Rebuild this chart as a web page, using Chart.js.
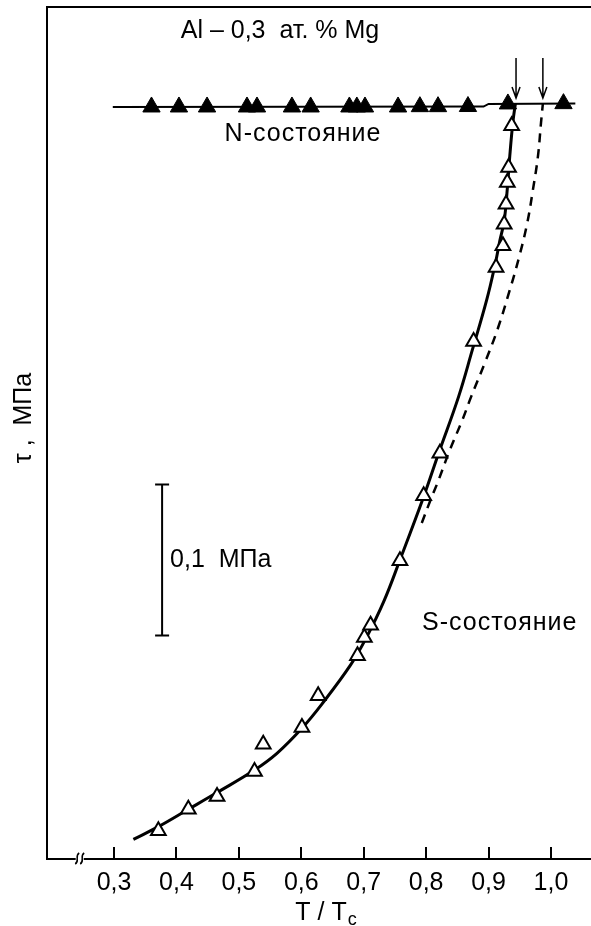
<!DOCTYPE html>
<html>
<head>
<meta charset="utf-8">
<script src="https://cdn.jsdelivr.net/npm/chart.js@4.4.1/dist/chart.umd.min.js"></script>
<style>
  html, body { margin: 0; padding: 0; background: #fff; }
  canvas { display: block; }
</style>
</head>
<body>
<canvas id="myChart" width="591" height="926"></canvas>
<script>
// x: T / Tc, y: tau in MPa (arbitrary zero at the axis)
const xTicks = [0.3, 0.4, 0.5, 0.6, 0.7, 0.8, 0.9, 1.0];

// N-state (filled triangles)
const nT = [0.360, 0.404, 0.449, 0.513, 0.529, 0.585, 0.615, 0.677, 0.689, 0.702, 0.755, 0.790, 0.819, 0.867, 0.931, 1.020];
const nTau = [0.498, 0.498, 0.498, 0.498, 0.498, 0.498, 0.498, 0.498, 0.498, 0.498, 0.498, 0.4982, 0.4982, 0.4983, 0.500, 0.5002];
const nLineT = [0.298, 0.892, 0.900, 1.039];
const nLineTau = [0.498, 0.4983, 0.500, 0.5003];

// S-state (open triangles)
const sT = [0.371, 0.419, 0.465, 0.525, 0.539, 0.601, 0.627, 0.690, 0.701, 0.711, 0.758, 0.796, 0.822, 0.876, 0.912, 0.923, 0.925, 0.928, 0.930, 0.932, 0.937];
const sTau = [0.0187, 0.0330, 0.0414, 0.0579, 0.0760, 0.0871, 0.1081, 0.1346, 0.1467, 0.1548, 0.1975, 0.2405, 0.2687, 0.3427, 0.3917, 0.4061, 0.4204, 0.4336, 0.4480, 0.4579, 0.4856];

// solid fitted curve
const curveT = [0.331, 0.371, 0.419, 0.465, 0.525, 0.561, 0.601, 0.633, 0.679, 0.705, 0.732, 0.758, 0.796, 0.820, 0.852, 0.874, 0.897, 0.911, 0.918, 0.925, 0.930, 0.934, 0.939, 0.943];
const curveTau = [0.0130, 0.0214, 0.0329, 0.0440, 0.0589, 0.0700, 0.0866, 0.1026, 0.1285, 0.1472, 0.1704, 0.1980, 0.2399, 0.2687, 0.3062, 0.3371, 0.3702, 0.3947, 0.4093, 0.4225, 0.4437, 0.4656, 0.4881, 0.5003];

// dashed curve
const dashT = [0.793, 0.807, 0.820, 0.838, 0.858, 0.872, 0.894, 0.914, 0.934, 0.949, 0.962, 0.971, 0.979, 0.984, 0.987];
const dashTau = [0.2225, 0.2377, 0.2510, 0.2709, 0.2907, 0.3060, 0.3285, 0.3503, 0.3768, 0.3987, 0.4212, 0.4430, 0.4649, 0.4874, 0.5003];

const arrowT = [0.944, 0.987];
const scaleBarT = 0.377;
const scaleBarTau = [0.148, 0.248];
const breakT = 0.245;

const FONT = "'Liberation Sans', Arial, Helvetica, sans-serif";

const zip = (xs, ys) => xs.map((x, i) => ({ x: x, y: ys[i] }));
const fmt = (v) => v.toFixed(1).replace(".", ",");

const extras = {
  id: "extras",
  afterDraw(chart) {
    const ctx = chart.ctx;
    const xs = chart.scales.x;
    const ys = chart.scales.y;
    const area = chart.chartArea;
    ctx.save();
    ctx.strokeStyle = "#000";
    ctx.fillStyle = "#000";

    // top frame line
    ctx.lineWidth = 2;
    ctx.beginPath();
    ctx.moveTo(area.left - 1, area.top);
    ctx.lineTo(chart.width, area.top);
    ctx.stroke();

    // inner ticks
    xTicks.forEach((t) => {
      const px = Math.round(xs.getPixelForValue(t));
      ctx.beginPath();
      ctx.moveTo(px, area.bottom);
      ctx.lineTo(px, area.bottom - 12);
      ctx.stroke();
    });

    // axis break mark
    const bx = xs.getPixelForValue(breakT);
    ctx.fillStyle = "#fff";
    ctx.fillRect(bx - 4, area.bottom - 2, 8, 4);
    ctx.lineWidth = 1.5;
    [-2.5, 2.5].forEach((dx) => {
      ctx.beginPath();
      ctx.moveTo(bx + dx + 2, area.bottom - 6);
      ctx.bezierCurveTo(bx + dx - 3, area.bottom - 3, bx + dx + 3, area.bottom + 2, bx + dx - 2, area.bottom + 5);
      ctx.stroke();
    });
    ctx.fillStyle = "#000";

    // arrows marking transition temperatures
    ctx.lineWidth = 1.5;
    arrowT.forEach((t) => {
      const px = xs.getPixelForValue(t);
      const tip = ys.getPixelForValue(0.5) - 6;
      ctx.beginPath();
      ctx.moveTo(px, tip - 40);
      ctx.lineTo(px, tip);
      ctx.moveTo(px - 4, tip - 11);
      ctx.lineTo(px, tip);
      ctx.lineTo(px + 4, tip - 11);
      ctx.stroke();
    });

    // 0.1 MPa scale bar
    const sx = xs.getPixelForValue(scaleBarT);
    const sy0 = ys.getPixelForValue(scaleBarTau[0]);
    const sy1 = ys.getPixelForValue(scaleBarTau[1]);
    ctx.lineWidth = 2;
    ctx.beginPath();
    ctx.moveTo(sx, sy0);
    ctx.lineTo(sx, sy1);
    ctx.moveTo(sx - 7, sy0);
    ctx.lineTo(sx + 7, sy0);
    ctx.moveTo(sx - 7, sy1);
    ctx.lineTo(sx + 7, sy1);
    ctx.stroke();

    // texts
    ctx.font = "25px " + FONT;
    ctx.textBaseline = "middle";
    ctx.textAlign = "left";
    ctx.fillText("0,1  МПа", sx + 8, (sy0 + sy1) / 2);
    ctx.textAlign = "center";
    ctx.fillText("Al – 0,3  ат. % Mg", 280, 31);
    ctx.letterSpacing = "1px";
    ctx.textAlign = "left";
    ctx.fillText("S-состояние", 422, 623);
    ctx.textAlign = "center";
    ctx.fillText("N-состояние", 303, 134);
    ctx.letterSpacing = "0px";

    // y axis title
    ctx.save();
    ctx.translate(24, 418);
    ctx.rotate(-Math.PI / 2);
    ctx.fillText("τ ,  МПа", 0, 0);
    ctx.restore();

    // x axis title with subscript
    ctx.textBaseline = "alphabetic";
    ctx.textAlign = "left";
    const main = "T / T";
    const w = ctx.measureText(main).width;
    ctx.font = "18px " + FONT;
    const wc = ctx.measureText("c").width;
    const x0 = 326 - (w + wc + 1) / 2;
    ctx.font = "25px " + FONT;
    ctx.fillText(main, x0, 920);
    ctx.font = "18px " + FONT;
    ctx.fillText("c", x0 + w + 1, 925);

    ctx.restore();
  },
};

const ctx = document.getElementById("myChart").getContext("2d");
const myChart = new Chart(ctx, {
  type: "scatter",
  data: {
    datasets: [
      {
        data: zip(sT, sTau),
        pointStyle: "triangle",
        pointRadius: 8.5,
        backgroundColor: "#fff",
        borderColor: "#000",
        borderWidth: 2,
      },
      {
        data: zip(nT, nTau),
        pointStyle: "triangle",
        pointRadius: 10,
        backgroundColor: "#000",
        borderColor: "#000",
        borderWidth: 1,
      },
      {
        data: zip(curveT, curveTau),
        showLine: true,
        pointRadius: 0,
        borderColor: "#000",
        borderWidth: 3,
        tension: 0.4,
      },
      {
        data: zip(dashT, dashTau),
        showLine: true,
        pointRadius: 0,
        borderColor: "#000",
        borderWidth: 2.5,
        borderDash: [9, 7],
        tension: 0.4,
      },
      {
        data: zip(nLineT, nLineTau),
        showLine: true,
        pointRadius: 0,
        borderColor: "#000",
        borderWidth: 2,
        tension: 0,
      },
    ],
  },
  options: {
    responsive: false,
    animation: false,
    events: [],
    layout: { autoPadding: false, padding: { top: 7, left: 0, right: 0, bottom: 0 } },
    plugins: { legend: { display: false }, tooltip: { enabled: false } },
    scales: {
      x: {
        type: "linear",
        min: 0.1926,
        max: 1.0641,
        afterFit: (scale) => {
          scale.height = 67;
          scale.paddingLeft = 0;
          scale.paddingRight = 0;
        },
        afterBuildTicks: (scale) => { scale.ticks = xTicks.map((v) => ({ value: v })); },
        grid: { display: false, drawTicks: false },
        border: { display: true, color: "#000", width: 2 },
        ticks: {
          color: "#000",
          padding: 9,
          maxRotation: 0,
          autoSkip: false,
          font: { family: FONT, size: 25 },
          callback: (v) => fmt(v),
        },
      },
      y: {
        type: "linear",
        min: 0,
        max: 0.5642,
        afterFit: (scale) => { scale.width = 47; },
        grid: { display: false, drawTicks: false },
        border: { display: true, color: "#000", width: 2 },
        ticks: { display: false },
      },
    },
  },
  plugins: [extras],
});
</script>
</body>
</html>
